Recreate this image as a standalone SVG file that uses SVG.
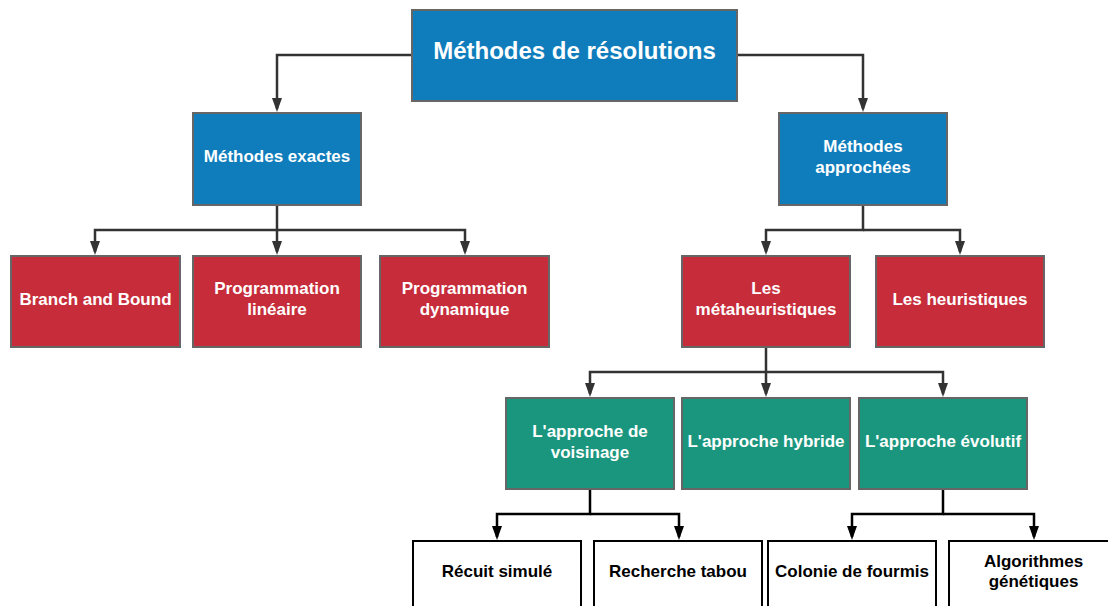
<svg xmlns="http://www.w3.org/2000/svg" width="1108" height="606" viewBox="0 0 1108 606">
  <defs>
    <marker id="arr" viewBox="0 0 14 10" markerWidth="14" markerHeight="10" refX="11" refY="5" orient="auto" markerUnits="userSpaceOnUse">
      <path d="M0,0 L14,5 L0,10 z" fill="#333"/>
    </marker>
    <marker id="arrK" viewBox="0 0 14 10" markerWidth="14" markerHeight="10" refX="11" refY="5" orient="auto" markerUnits="userSpaceOnUse">
      <path d="M0,0 L14,5 L0,10 z" fill="#000"/>
    </marker>
    <style>
      .blue { fill: #0f7dbc; stroke: #666; stroke-width: 2; }
      .red { fill: #c72c3a; stroke: #666; stroke-width: 2; }
      .green { fill: #1b967e; stroke: #666; stroke-width: 2; }
      .white { fill: #fff; stroke: #000; stroke-width: 2; }
      text { font-family: "Liberation Sans", Arial, sans-serif; font-weight: bold; font-size: 17px; text-anchor: middle; }
      .lt { fill: #fff; }
      .dk { fill: #000; }
      .title { font-size: 24px; }
      .conn { fill: none; stroke: #333; stroke-width: 2.5; marker-end: url(#arr); }
      .connK { fill: none; stroke: #000; stroke-width: 2.5; marker-end: url(#arrK); }
    </style>
  </defs>
  <rect width="1108" height="606" fill="#fff"/>

  <!-- connectors -->
  <g id="connectors">
    <path class="conn" d="M412,55 H277 V109"/>
    <path class="conn" d="M737,55 H863 V109"/>
    <path class="conn" d="M277,205 V230 H95 V252"/>
    <path class="conn" d="M277,230 V252"/>
    <path class="conn" d="M277,230 H465 V252"/>
    <path class="conn" d="M863,205 V230 H766 V252"/>
    <path class="conn" d="M863,230 H960 V252"/>
    <path class="conn" d="M766,347 V372 H590 V394"/>
    <path class="conn" d="M766,372 V394"/>
    <path class="conn" d="M766,372 H943 V394"/>
    <path class="connK" d="M590,489 V514 H497 V537"/>
    <path class="connK" d="M590,514 H679 V537"/>
    <path class="connK" d="M943,489 V514 H852 V537"/>
    <path class="connK" d="M943,514 H1034 V537"/>
  </g>

  <!-- level 0 -->
  <g id="root">
    <rect class="blue" x="412" y="10" width="325" height="91"/>
    <text class="lt title" x="574.5" y="59">Méthodes de résolutions</text>
  </g>

  <!-- level 1 -->
  <g id="exactes">
    <rect class="blue" x="193" y="113" width="168" height="92"/>
    <text class="lt" x="277" y="162">Méthodes exactes</text>
  </g>
  <g id="approchees">
    <rect class="blue" x="779" y="113" width="168" height="92"/>
    <text class="lt" x="863" y="152">Méthodes</text>
    <text class="lt" x="863" y="173">approchées</text>
  </g>

  <!-- level 2 -->
  <g id="branch-bound">
    <rect class="red" x="11" y="256" width="169" height="91"/>
    <text class="lt" x="95.5" y="305">Branch and Bound</text>
  </g>
  <g id="prog-lineaire">
    <rect class="red" x="193" y="256" width="168" height="91"/>
    <text class="lt" x="277" y="294">Programmation</text>
    <text class="lt" x="277" y="315">linéaire</text>
  </g>
  <g id="prog-dynamique">
    <rect class="red" x="380" y="256" width="169" height="91"/>
    <text class="lt" x="464.5" y="294">Programmation</text>
    <text class="lt" x="464.5" y="315">dynamique</text>
  </g>
  <g id="metaheuristiques">
    <rect class="red" x="682" y="256" width="168" height="91"/>
    <text class="lt" x="766" y="294">Les</text>
    <text class="lt" x="766" y="315">métaheuristiques</text>
  </g>
  <g id="heuristiques">
    <rect class="red" x="876" y="256" width="168" height="91"/>
    <text class="lt" x="960" y="305">Les heuristiques</text>
  </g>

  <!-- level 3 -->
  <g id="voisinage">
    <rect class="green" x="506" y="398" width="168" height="91"/>
    <text class="lt" x="590" y="437">L'approche de</text>
    <text class="lt" x="590" y="458">voisinage</text>
  </g>
  <g id="hybride">
    <rect class="green" x="682" y="398" width="168" height="91"/>
    <text class="lt" x="766" y="447">L'approche hybride</text>
  </g>
  <g id="evolutif">
    <rect class="green" x="859" y="398" width="168" height="91"/>
    <text class="lt" x="943" y="447">L'approche évolutif</text>
  </g>

  <!-- level 4 -->
  <g id="recuit">
    <rect class="white" x="413" y="541" width="168" height="91"/>
    <text class="dk" x="497" y="577">Récuit simulé</text>
  </g>
  <g id="tabou">
    <rect class="white" x="594" y="541" width="168" height="91"/>
    <text class="dk" x="678" y="577">Recherche tabou</text>
  </g>
  <g id="fourmis">
    <rect class="white" x="768" y="541" width="168" height="91"/>
    <text class="dk" x="852" y="577">Colonie de fourmis</text>
  </g>
  <g id="genetiques">
    <rect class="white" x="949" y="541" width="169" height="91"/>
    <text class="dk" x="1033.5" y="567">Algorithmes</text>
    <text class="dk" x="1033.5" y="587">génétiques</text>
  </g>
</svg>
